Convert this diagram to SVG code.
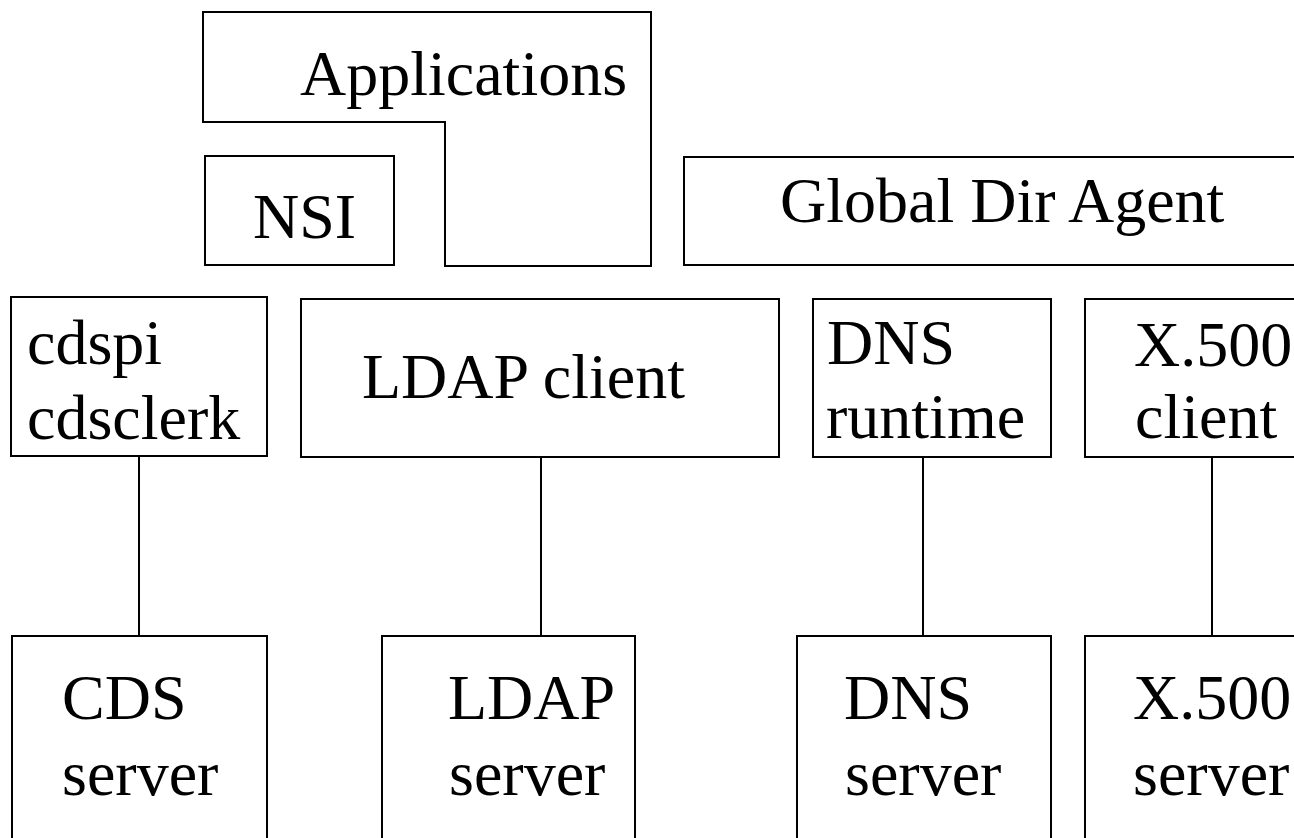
<svg xmlns="http://www.w3.org/2000/svg" width="1294" height="838" viewBox="0 0 1294 838">
<style>
.box{fill:#fff;stroke:#000;stroke-width:2}
.t{font-family:"Liberation Serif","Times New Roman",serif;font-size:64px;fill:#000}
.c{stroke:#000;stroke-width:2;fill:none}
</style>
<rect width="1294" height="838" fill="#fff"/>
<g id="connectors">
<line class="c" x1="139" y1="456" x2="139" y2="636"/>
<line class="c" x1="541" y1="457" x2="541" y2="636"/>
<line class="c" x1="923" y1="457" x2="923" y2="636"/>
<line class="c" x1="1212" y1="457" x2="1212" y2="636"/>
</g>
<g id="applications">
<path class="box" d="M203,12 H651 V266 H445 V122 H203 Z"/>
<text class="t" x="300" y="95">Applications</text>
</g>
<g id="nsi">
<rect class="box" x="205" y="156" width="189" height="109"/>
<text class="t" x="253" y="238">NSI</text>
</g>
<g id="gda">
<rect class="box" x="684" y="157" width="620" height="108"/>
<text class="t" x="780" y="222">Global Dir Agent</text>
</g>
<g id="cdspi">
<rect class="box" x="11" y="297" width="256" height="159"/>
<text class="t" x="27" y="364">cdspi</text>
<text class="t" x="27" y="439">cdsclerk</text>
</g>
<g id="ldapclient">
<rect class="box" x="301" y="299" width="478" height="158"/>
<text class="t" x="362" y="398">LDAP client</text>
</g>
<g id="dnsruntime">
<rect class="box" x="813" y="299" width="238" height="158"/>
<text class="t" x="827" y="364">DNS</text>
<text class="t" x="826" y="438">runtime</text>
</g>
<g id="x500client">
<rect class="box" x="1085" y="299" width="230" height="158"/>
<text class="t" x="1134" y="366">X.500</text>
<text class="t" x="1135" y="438">client</text>
</g>
<g id="cdsserver">
<rect class="box" x="12" y="636" width="255" height="220"/>
<text class="t" x="62" y="719">CDS</text>
<text class="t" x="62" y="795">server</text>
</g>
<g id="ldapserver">
<rect class="box" x="382" y="636" width="253" height="220"/>
<text class="t" x="448" y="719">LDAP</text>
<text class="t" x="449" y="795">server</text>
</g>
<g id="dnsserver">
<rect class="box" x="797" y="636" width="254" height="220"/>
<text class="t" x="844" y="719">DNS</text>
<text class="t" x="845" y="795">server</text>
</g>
<g id="x500server">
<rect class="box" x="1085" y="636" width="230" height="220"/>
<text class="t" x="1133" y="719">X.500</text>
<text class="t" x="1133" y="795">server</text>
</g>
</svg>
